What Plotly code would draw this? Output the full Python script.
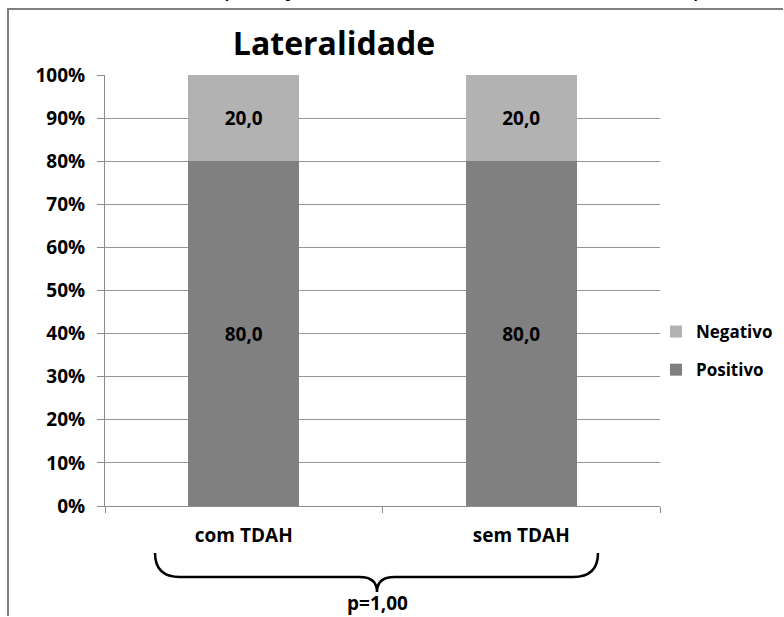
import plotly.graph_objects as go

# Chart data
categories = ["com TDAH", "sem TDAH"]
positivo = [80.0, 80.0]
negativo = [20.0, 20.0]
y_ticks = list(range(0, 101, 10))
y_tick_labels = [f"{v}%" for v in y_ticks]
p_value_label = "p=1,00"

W, H = 784, 617
L, R, T, B = 105, 124, 75, 111
FONT = "Open Sans"

plot_w = W - L - R
plot_h = H - T - B


def px_x(px):
    return (px - L) / plot_w


def px_y(py):
    return (H - B - py) / plot_h


def fmt(v):
    return f"{v:.1f}".replace(".", ",")


label_font = dict(family=FONT, size=19, color="black", weight="bold")

fig = go.Figure()
fig.add_trace(go.Bar(
    x=categories, y=positivo, name="Positivo", legendgroup="pos",
    legendrank=2,
    marker=dict(color="#808080", line=dict(width=0)),
    text=[fmt(v) for v in positivo], textposition="inside",
    insidetextanchor="middle", textfont=label_font,
))
fig.add_trace(go.Bar(
    x=categories, y=negativo, name="Negativo", legendgroup="neg",
    legendrank=1,
    marker=dict(color="#b2b2b2", line=dict(width=0)),
    text=[fmt(v) for v in negativo], textposition="inside",
    insidetextanchor="middle", textfont=label_font,
))

# Brace under the category labels
bx0, bx1, bxc = px_x(155), px_x(598), px_x(377)
ytop, ymid, ytip = px_y(553), px_y(577), px_y(592)
dx = px_x(180) - px_x(155)
brace = (
    f"M {bx0},{ytop} Q {bx0},{ymid} {bx0 + dx},{ymid} "
    f"L {bxc - dx * 0.7},{ymid} Q {bxc},{ymid} {bxc},{ytip} "
    f"Q {bxc},{ymid} {bxc + dx * 0.7},{ymid} "
    f"L {bx1 - dx},{ymid} Q {bx1},{ymid} {bx1},{ytop}"
)

# Outer frame (top and left edges) as one open path
fx0, fx1 = px_x(8), px_x(W - 1)
fy_top, fy_bot = px_y(9), px_y(H - 1)
frame = f"M {fx1},{fy_top} L {fx0},{fy_top} L {fx0},{fy_bot}"

fig.update_layout(
    width=W, height=H,
    margin=dict(l=L, r=R, t=T, b=B, pad=0, autoexpand=False),
    paper_bgcolor="white", plot_bgcolor="white",
    barmode="stack", bargap=0.6,
    font=dict(family=FONT, size=19, color="black"),
    title=dict(text="<b>Lateralidade</b>", x=334 / W,
               xanchor="center", y=1 - 44 / H, yanchor="middle",
               font=dict(family=FONT, size=32, color="black")),
    showlegend=True,
    legend=dict(x=px_x(656), y=px_y(351), xanchor="left", yanchor="middle",
                traceorder="grouped", tracegroupgap=13,
                font=dict(family=FONT, size=17, color="black", weight="bold"),
                itemwidth=30, bgcolor="rgba(0,0,0,0)"),
    xaxis=dict(
        showline=True, linecolor="#8c8c8c", linewidth=1,
        ticks="outside", tickson="boundaries", ticklen=6, tickcolor="#8c8c8c",
        tickfont=label_font, ticklabelstandoff=12, showgrid=False,
    ),
    yaxis=dict(
        range=[0, 100], tickvals=y_ticks, ticktext=y_tick_labels,
        showline=True, linecolor="#8c8c8c", linewidth=1,
        ticks="outside", ticklen=7, tickcolor="#8c8c8c",
        showgrid=True, gridcolor="#959595", gridwidth=1,
        tickfont=label_font, ticklabelstandoff=8, zeroline=False,
    ),
    shapes=[
        dict(type="path", xref="paper", yref="paper", path=brace,
             line=dict(color="black", width=2.5)),
        dict(type="path", xref="paper", yref="paper", layer="above",
             path=frame, line=dict(color="#808080", width=2)),
    ],
    annotations=[
        dict(text=f"<b>{p_value_label}</b>", xref="paper", yref="paper",
             x=bxc, y=px_y(603), xanchor="center", yanchor="middle",
             showarrow=False, font=dict(family=FONT, size=19, color="black")),
        dict(text="Gráfico 11 – Comparação da Lateralidade entre os Grupos",
             xref="paper", yref="paper", x=px_x(8), y=px_y(3),
             xanchor="left", yanchor="bottom", showarrow=False,
             bgcolor="rgba(0,0,0,0)", borderpad=0,
             font=dict(family=FONT, size=27, color="black")),
    ],
)

fig.write_html("out.html")
